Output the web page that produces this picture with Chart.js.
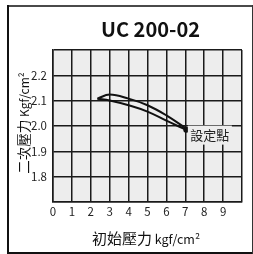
<!DOCTYPE html>
<html>
<head>
<meta charset="utf-8">
<script src="https://cdn.jsdelivr.net/npm/chart.js@4"></script>
<style>
  html, body { margin: 0; padding: 0; background: #fff; }
  canvas { display: block; }
</style>
</head>
<body>
<canvas id="chart" width="253" height="254"></canvas>
<script>
// chart data
var titleText = "UC 200-02";
var xTitle = ["初始壓力", " kgf/cm²"];
var yTitle = ["二次壓力", " Kgf/cm²"];
var setPointLabel = "設定點";
var xTicks = [0, 1, 2, 3, 4, 5, 6, 7, 8, 9];
var yTicks = [1.8, 1.9, 2.0, 2.1, 2.2];

// rising pressure branch (upper) and falling branch (lower)
var upperX = [2.35, 3, 4, 5, 6, 7.05];
var upperY = [2.108, 2.124, 2.108, 2.082, 2.042, 1.99];
var lowerX = [2.35, 3, 4, 5, 6, 7.05];
var lowerY = [2.108, 2.101, 2.082, 2.057, 2.021, 1.985];

var FONT = "'Noto Sans CJK TC', 'Noto Sans', sans-serif";

function toPoints(xs, ys) {
    var pts = [];
    for (var i = 0; i < xs.length; i++) pts.push({x: xs[i], y: ys[i]});
    return pts;
}

// background, frame and text drawn around the plot
var decorations = {
    id: 'decorations',
    beforeDraw: function(chart) {
        var ctx = chart.ctx, a = chart.chartArea;
        ctx.save();
        ctx.fillStyle = '#fff';
        ctx.fillRect(0, 0, chart.width, chart.height);
        ctx.fillStyle = '#ededed';
        ctx.fillRect(a.left, a.top, a.right - a.left, a.bottom - a.top);
        ctx.restore();
    },
    afterDatasetsDraw: function(chart) {
        var ctx = chart.ctx;
        var xs = chart.scales.x, ys = chart.scales.y;
        ctx.save();
        // label for the set point, its box hides the grid behind it
        var lx = xs.getPixelForValue(8.3), ly = ys.getPixelForValue(1.966);
        ctx.fillStyle = '#ededed';
        ctx.fillRect(lx - 22, ly - 9, 44, 19);
        ctx.fillStyle = '#222';
        ctx.font = '13px ' + FONT;
        ctx.textAlign = 'center';
        ctx.textBaseline = 'middle';
        ctx.fillText(setPointLabel, lx, ly);
        ctx.restore();
    },
    afterDraw: function(chart) {
        var ctx = chart.ctx;
        ctx.save();
        // outer frame
        ctx.fillStyle = '#4a4a4a';
        ctx.fillRect(8, 5, 244, 2);
        ctx.fillStyle = '#111';
        ctx.fillRect(7, 5, 2, 249);
        ctx.fillRect(7, 252, 246, 2);
        ctx.fillStyle = '#333';
        ctx.fillRect(252, 5, 1, 249);
        ctx.fillStyle = '#111';
        // title
        ctx.font = 'bold 20px ' + FONT;
        ctx.textAlign = 'center';
        ctx.textBaseline = 'middle';
        ctx.fillText(titleText, 150.5, 29);
        // x axis title
        ctx.textAlign = 'left';
        ctx.textBaseline = 'alphabetic';
        ctx.font = '15px ' + FONT;
        var w1 = ctx.measureText(xTitle[0]).width;
        ctx.font = '12.5px ' + FONT;
        var w2 = ctx.measureText(xTitle[1]).width;
        var x0 = 146 - (w1 + w2) / 2;
        ctx.font = '15px ' + FONT;
        ctx.fillText(xTitle[0], x0, 244);
        ctx.font = '12.5px ' + FONT;
        ctx.fillText(xTitle[1], x0 + w1, 244);
        // y axis title, rotated
        ctx.translate(24, 123);
        ctx.rotate(-Math.PI / 2);
        ctx.font = '13.5px ' + FONT;
        w1 = ctx.measureText(yTitle[0]).width;
        ctx.font = '12px ' + FONT;
        w2 = ctx.measureText(yTitle[1]).width;
        x0 = -(w1 + w2) / 2;
        ctx.textBaseline = 'middle';
        ctx.font = '13.5px ' + FONT;
        ctx.fillText(yTitle[0], x0, 0);
        ctx.font = '12px ' + FONT;
        ctx.fillText(yTitle[1], x0 + w1, 0);
        ctx.restore();
    }
};

var lineStyle = {
    borderColor: '#111',
    borderWidth: 2,
    pointRadius: 0,
    fill: false,
    tension: 0.4
};

new Chart(document.getElementById('chart').getContext('2d'), {
    type: 'line',
    data: {
        datasets: [
            Object.assign({label: 'upper', data: toPoints(upperX, upperY)}, lineStyle),
            Object.assign({label: 'lower', data: toPoints(lowerX, lowerY)}, lineStyle,
                {pointRadius: [0, 0, 0, 0, 0, 2], pointBackgroundColor: '#111'})
        ]
    },
    options: {
        responsive: false,
        animation: false,
        layout: { padding: { top: 50, right: 11, left: 0, bottom: 0 } },
        plugins: {
            legend: { display: false },
            tooltip: { enabled: false }
        },
        scales: {
            x: {
                type: 'linear',
                min: 0, max: 10,
                afterFit: function(s) { s.height = 52; },
                afterBuildTicks: function(s) {
                    s.ticks = [];
                    for (var v = 0; v <= 10; v++) s.ticks.push({value: v});
                },
                grid: { color: '#1a1a1a', lineWidth: 1.5, drawTicks: false },
                border: { color: '#1a1a1a', width: 1.5 },
                ticks: {
                    padding: 3,
                    color: '#222',
                    font: { family: FONT, size: 11.5 },
                    callback: function(v) { return xTicks.indexOf(v) >= 0 ? String(v) : ''; }
                }
            },
            y: {
                type: 'linear',
                min: 1.7, max: 2.3,
                afterFit: function(s) { s.width = 53; },
                afterBuildTicks: function(s) {
                    s.ticks = [];
                    for (var i = 0; i <= 6; i++) s.ticks.push({value: Math.round((1.7 + i * 0.1) * 10) / 10});
                },
                grid: { color: '#1a1a1a', lineWidth: 1.5, drawTicks: false },
                border: { color: '#1a1a1a', width: 1.5 },
                ticks: {
                    padding: 6,
                    color: '#222',
                    font: { family: FONT, size: 11.5 },
                    callback: function(v) { return yTicks.indexOf(v) >= 0 ? v.toFixed(1) : ''; }
                }
            }
        }
    },
    plugins: [decorations]
});
</script>
</body>
</html>
